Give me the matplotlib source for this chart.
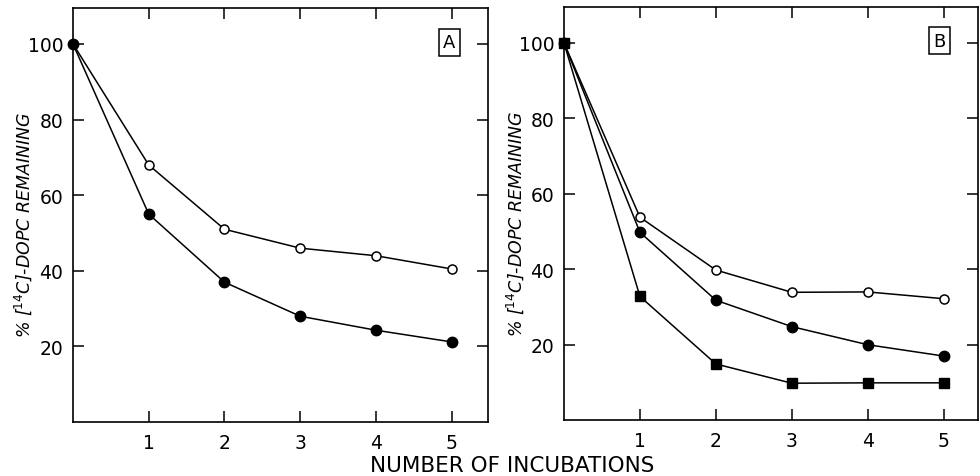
import matplotlib
matplotlib.use("Agg")
import matplotlib.pyplot as plt

# incubation number
incubations = [0, 1, 2, 3, 4, 5]

# panel A: % [14C]-DOPC remaining
a_open = [100, 68, 51, 46, 44, 40.5]
a_filled = [100, 55, 37, 28, 24.3, 21.2]

# panel B
b_open = [100, 53.8, 39.8, 33.9, 34.0, 32.2]
b_filled = [100, 49.8, 31.8, 24.8, 20.0, 17.0]
b_square = [100, 32.8, 14.9, 9.8, 9.9, 9.9]

x_ticks = [1, 2, 3, 4, 5]
y_ticks = [20, 40, 60, 80, 100]
ylabel = r"% [$^{14}$C]-DOPC REMAINING"

plt.rcParams["font.family"] = "DejaVu Sans"

fig = plt.figure(figsize=(9.8, 4.77), dpi=100)
axA = fig.add_axes([0.0745, 0.113, 0.4235, 0.868])
axB = fig.add_axes([0.5755, 0.117, 0.4224, 0.866])


def style(ax, xmax, label_x):
    ax.set_xlim(0, xmax)
    ax.set_ylim(0, 109.5)
    ax.set_xticks(x_ticks)
    ax.set_yticks(y_ticks)
    ax.tick_params(direction="in", top=True, right=True, length=8, width=1.1,
                   labelsize=13.5, color="black")
    ax.tick_params(axis="y", pad=7)
    ax.tick_params(axis="x", pad=7.5)
    for s in ax.spines.values():
        s.set_linewidth(1.2)
    ax.set_ylabel(ylabel, fontsize=12.5, style="italic")
    ax.yaxis.set_label_coords(label_x, 0.478)


lw = 1.1
kw = dict(color="black", lw=lw, clip_on=False, zorder=3)

# panel A
axA.plot(incubations, a_open, marker="o", ms=6.5, mfc="white", mec="black", mew=1.1, **kw)
axA.plot(incubations, a_filled, marker="o", ms=7.5, mfc="black", mec="black", **kw)
style(axA, 5.48, -0.094)
axA.text(0.907, 0.917, "A", transform=axA.transAxes, fontsize=13, ha="center", va="center",
         bbox=dict(boxstyle="square,pad=0.25", fc="white", ec="black", lw=1.1))

# panel B
axB.plot(incubations, b_open, marker="o", ms=6.5, mfc="white", mec="black", mew=1.1, **kw)
axB.plot(incubations, b_filled, marker="o", ms=7.5, mfc="black", mec="black", **kw)
axB.plot(incubations, b_square, marker="s", ms=7, mfc="black", mec="black", **kw)
style(axB, 5.45, -0.092)
axB.text(0.908, 0.918, "B", transform=axB.transAxes, fontsize=13, ha="center", va="center",
         bbox=dict(boxstyle="square,pad=0.25", fc="white", ec="black", lw=1.1))

fig.text(0.523, 0.023, "NUMBER OF INCUBATIONS", fontsize=15.5, ha="center", va="center")

fig.savefig("out.png", dpi=100)
